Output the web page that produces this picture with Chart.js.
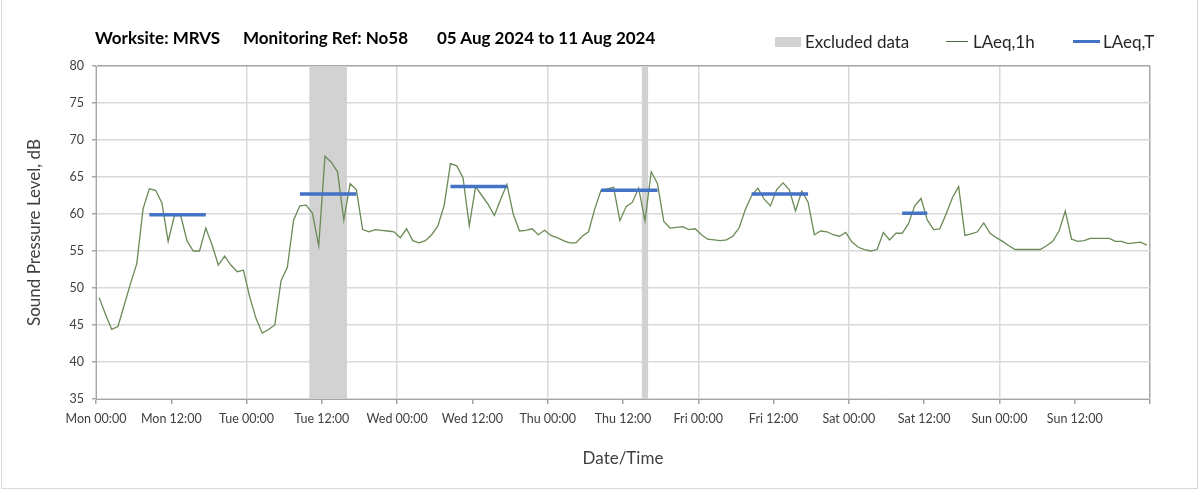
<!DOCTYPE html>
<html>
<head>
<meta charset="utf-8">
<script src="https://cdn.jsdelivr.net/npm/chart.js@4.4.1/dist/chart.umd.min.js"></script>
<style>
  body { margin: 0; background: #fff; font-family: Lato, 'Open Sans', sans-serif; }
  #wrap { position: relative; width: 1203px; height: 492px; overflow: hidden; }
  #frame { position: absolute; left: 1px; top: -1px; width: 1195px; height: 488px; border: 1px solid #d9d9d9; }
  canvas { position: absolute; left: 0; top: 0; }
  .t { position: absolute; top: 27px; font-weight: bold; font-size: 17px; color: #000; white-space: nowrap; }
  .lg { position: absolute; top: 31px; font-size: 17px; color: #262626; white-space: nowrap; }
  .sw { position: absolute; }
</style>
</head>
<body>
<div id="wrap">
  <div id="frame"></div>
  <canvas id="noiseChart" width="1203" height="492"></canvas>

  <!-- titolo -->
  <span class="t" style="left:95px">Worksite: MRVS</span>
  <span class="t" style="left:243px">Monitoring Ref: No58</span>
  <span class="t" style="left:437px">05 Aug 2024 to 11 Aug 2024</span>

  <!-- legenda -->
  <div class="sw" style="left:775px; top:37px; width:26px; height:10px; background:#d2d2d2"></div>
  <span class="lg" style="left:805px">Excluded data</span>
  <div class="sw" style="left:946px; top:41px; width:22px; height:1px; background:#4f6b3a"></div>
  <span class="lg" style="left:973px">LAeq,1h</span>
  <div class="sw" style="left:1073px; top:40px; width:27px; height:3px; background:#4472c4"></div>
  <span class="lg" style="left:1103px">LAeq,T</span>
</div>

<script>
// --- DATI ---
// LAeq,1h: un valore per ogni ora, lun 00:00 -> dom 23:00
const laeq1h = [
  48.7, 46.5, 44.4, 44.8, 47.7, 50.6, 53.3, 60.7, 63.4, 63.2, 61.5, 56.3, 59.8, 59.8, 56.4, 55.0, 55.0, 58.1, 55.8, 53.1, 54.3, 53.1, 52.2, 52.4, // Mon
  48.8, 45.9, 43.9, 44.4, 45.0, 51.0, 52.8, 59.2, 61.1, 61.2, 60.1, 55.7, 67.8, 67.0, 65.7, 59.2, 64.1, 63.3, 57.9, 57.6, 57.9, 57.8, 57.7, 57.6, // Tue
  56.8, 58.0, 56.4, 56.1, 56.4, 57.2, 58.4, 61.2, 66.8, 66.5, 64.9, 58.4, 63.7, 62.5, 61.3, 59.8, 62.0, 64.0, 60.0, 57.7, 57.8, 58.0, 57.2, 57.8, // Wed
  57.1, 56.8, 56.4, 56.1, 56.1, 57.0, 57.6, 60.7, 63.2, 63.4, 63.6, 59.1, 61.0, 61.6, 63.5, 59.1, 65.7, 64.1, 59.0, 58.1, 58.2, 58.3, 57.9, 58.0, // Thu
  57.2, 56.6, 56.5, 56.4, 56.5, 57.0, 58.1, 60.6, 62.5, 63.5, 62.0, 61.1, 63.3, 64.2, 63.3, 60.4, 63.1, 61.6, 57.2, 57.7, 57.6, 57.2, 57.0, 57.5, // Fri
  56.2, 55.5, 55.2, 55.0, 55.2, 57.5, 56.5, 57.4, 57.4, 58.7, 61.1, 62.1, 59.2, 57.9, 58.0, 60.0, 62.2, 63.7, 57.1, 57.3, 57.6, 58.8, 57.4, 56.8, // Sat
  56.3, 55.7, 55.2, 55.2, 55.2, 55.2, 55.2, 55.7, 56.3, 57.7, 60.4, 56.6, 56.3, 56.4, 56.7, 56.7, 56.7, 56.7, 56.3, 56.3, 56.0, 56.1, 56.2, 55.8  // Sun
];

// LAeq,T: periodi di lavoro (indice ora inizio / fine) e livello
const periodStart = [8, 32, 56, 80, 104, 128];
const periodEnd = [17, 41, 65, 89, 113, 132];
const periodLevel = [59.9, 62.7, 63.7, 63.2, 62.7, 60.1];

// dati esclusi (ore dall'inizio della settimana)
const excludedFrom = [34, 87];
const excludedTo = [40, 88];

const tickLabels = [
  'Mon 00:00', 'Mon 12:00', 'Tue 00:00', 'Tue 12:00', 'Wed 00:00', 'Wed 12:00', 'Thu 00:00',
  'Thu 12:00', 'Fri 00:00', 'Fri 12:00', 'Sat 00:00', 'Sat 12:00', 'Sun 00:00', 'Sun 12:00', ''
];

// ogni valore orario sta a metà della sua ora
const hourPoints = laeq1h.map((v, i) => ({ x: i + 0.5, y: v }));

const periodPoints = [];
periodStart.forEach((s, i) => {
  periodPoints.push({ x: s + 0.5, y: periodLevel[i] });
  periodPoints.push({ x: periodEnd[i] + 0.5, y: periodLevel[i] });
  periodPoints.push({ x: periodEnd[i] + 0.5, y: null }); // interrompe la linea
});

// bande grigie per i dati esclusi, sotto le linee
const excludedBands = {
  id: 'excludedBands',
  beforeDatasetsDraw(chart) {
    const { ctx, chartArea, scales: { x } } = chart;
    ctx.save();
    ctx.fillStyle = '#d2d2d2';
    excludedFrom.forEach((from, i) => {
      const x1 = x.getPixelForValue(from);
      const x2 = x.getPixelForValue(excludedTo[i]);
      ctx.fillRect(x1, chartArea.top, x2 - x1, chartArea.bottom - chartArea.top);
    });
    ctx.restore();
  }
};

Chart.defaults.font.family = "Lato, 'Open Sans', sans-serif";

const ctx = document.getElementById('noiseChart').getContext('2d');
const noiseChart = new Chart(ctx, {
  type: 'line',
  data: {
    datasets: [
      {
        label: 'LAeq,T',
        data: periodPoints,
        borderColor: '#4472c4',
        borderWidth: 3.5,
        pointRadius: 0,
        spanGaps: false
      },
      {
        label: 'LAeq,1h',
        data: hourPoints,
        borderColor: '#6a8a56',
        borderWidth: 1.3,
        pointRadius: 0,
        tension: 0
      }
    ]
  },
  options: {
    responsive: false,
    animation: false,
    layout: { padding: { top: 66, right: 53, bottom: 0, left: 0 } },
    plugins: {
      legend: { display: false },
      tooltip: { enabled: false }
    },
    scales: {
      x: {
        type: 'linear',
        min: 0,
        max: 168,
        afterFit: (scale) => { scale.height = 93; },
        ticks: {
          stepSize: 12,
          autoSkip: false,
          maxRotation: 0,
          padding: 7,
          color: '#404040',
          font: { size: 12.5 },
          callback: (v) => tickLabels[v / 12]
        },
        grid: {
          color: (c) => {
            const v = c.tick ? c.tick.value : 0;
            if (v === 168) return '#a6a6a6';
            return v % 24 === 0 ? '#d9d9d9' : 'rgba(0,0,0,0)';
          },
          lineWidth: 1.5,
          tickColor: '#a6a6a6',
          tickLength: 5
        },
        border: { color: '#a6a6a6', width: 1 },
        title: {
          display: true,
          text: 'Date/Time',
          color: '#404040',
          font: { size: 17 },
          padding: { bottom: 23 }
        }
      },
      y: {
        min: 35,
        max: 80,
        afterFit: (scale) => { scale.width = 96; },
        ticks: {
          stepSize: 5,
          padding: 8,
          color: '#404040',
          font: { size: 12.5 }
        },
        grid: {
          color: (c) => (c.tick && c.tick.value === 80 ? '#a6a6a6' : '#d9d9d9'),
          lineWidth: 1.5,
          tickColor: '#a6a6a6',
          tickLength: 4
        },
        border: { color: '#a6a6a6', width: 1 },
        title: {
          display: true,
          text: 'Sound Pressure Level, dB',
          color: '#404040',
          font: { size: 17 },
          padding: { top: 24 }
        }
      }
    }
  },
  plugins: [excludedBands]
});
</script>
</body>
</html>
